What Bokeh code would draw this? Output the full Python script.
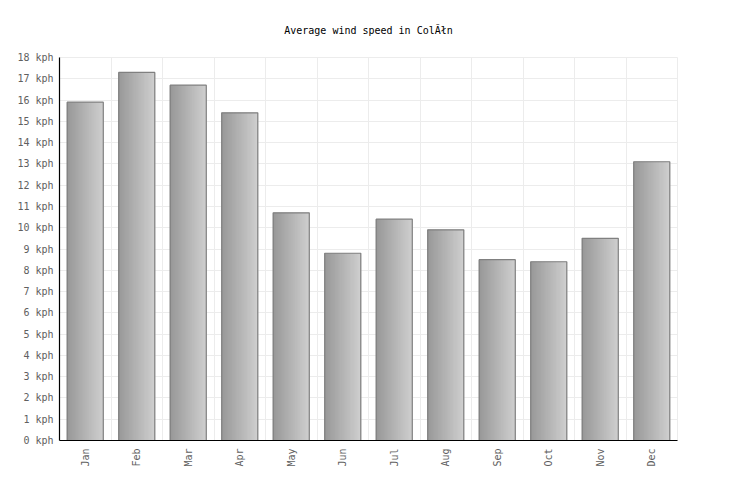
import math
from bokeh.plotting import figure
from bokeh.models import ColumnDataSource, FactorRange, Range1d, FixedTicker, Grid
from bokeh.transform import dodge
from bokeh.embed import file_html
from bokeh.resources import INLINE

months = ["Jan", "Feb", "Mar", "Apr", "May", "Jun", "Jul", "Aug", "Sep", "Oct", "Nov", "Dec"]
wind_kph = [15.9, 17.3, 16.7, 15.4, 10.7, 8.8, 10.4, 9.9, 8.5, 8.4, 9.5, 13.1]
y_ticks = list(range(0, 19))
title_text = "Average wind speed in ColĂłn"

FONT = "DejaVu Sans Mono"

p = figure(width=728, height=492, x_range=FactorRange(*months, range_padding=0),
           y_range=Range1d(0, 18), output_backend="svg", toolbar_location=None,
           title=title_text, min_border_left=59, min_border_right=51,
           min_border_top=57, min_border_bottom=52)

p.title.align = "center"
p.title.text_font = FONT
p.title.text_font_size = "10px"
p.title.text_font_style = "normal"
p.title.text_color = "#000000"
p.title.standoff = 44

src = ColumnDataSource(dict(month=months, v=wind_kph))

bar_w = 0.7
n = 40
sw = bar_w / n
for i in range(n):
    t = i / (n - 1)
    g = int(round(152 + t * (206 - 152)))
    col = "#%02x%02x%02x" % (g, g, g)
    off = -bar_w / 2 + (i + 0.5) * sw
    p.vbar(x=dodge("month", off, range=p.x_range), top="v", bottom=0, width=sw * 2.0,
           source=src, fill_color=col, line_color=None)
p.vbar(x="month", top="v", bottom=0, width=bar_w, source=src,
       fill_color=None, line_color="#808080", line_width=1.2)

# grids
p.xgrid.visible = False
p.add_layout(Grid(dimension=0, ticker=FixedTicker(ticks=list(range(0, 13))),
                  grid_line_color="#ececec", grid_line_width=1, level="underlay"))
p.ygrid.ticker = FixedTicker(ticks=y_ticks)
p.ygrid.grid_line_color = "#ececec"

p.outline_line_color = "#ececec"
p.background_fill_color = "white"
p.border_fill_color = "white"

p.yaxis.ticker = FixedTicker(ticks=y_ticks)
p.yaxis.major_label_overrides = {t: f"{t} kph" for t in y_ticks}
for ax in (p.xaxis, p.yaxis):
    ax.axis_line_color = "#000000"
    ax.axis_line_width = 1.2
    ax.major_tick_in = 0
    ax.major_tick_out = 0
    ax.minor_tick_in = 0
    ax.minor_tick_out = 0
    ax.major_label_text_font = FONT
    ax.major_label_text_font_size = "10px"
    ax.major_label_text_color = "#606060"
p.yaxis.major_label_standoff = 6
p.xaxis.major_label_standoff = 8
p.xaxis.major_label_orientation = math.pi / 2

open("out.html", "w").write(file_html(p, INLINE))
